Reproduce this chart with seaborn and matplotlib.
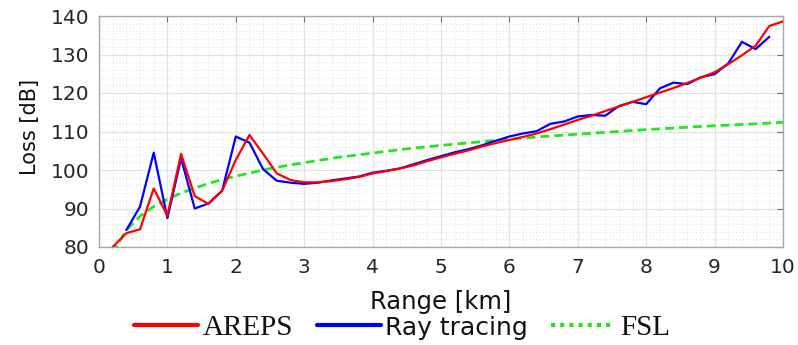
import numpy as np
import pandas as pd
import matplotlib
matplotlib.use("Agg")
import matplotlib.pyplot as plt
from matplotlib.lines import Line2D
from matplotlib.ticker import MultipleLocator
import seaborn as sns

# values
areps_range = [0.2, 0.4, 0.6, 0.8, 1.0, 1.2, 1.4, 1.6, 1.8, 2.0,
               2.2, 2.4, 2.6, 2.8, 3.0, 3.2, 3.4, 3.6, 3.8, 4.0,
               4.2, 4.4, 4.6, 4.8, 5.0, 5.2, 5.4, 5.6, 5.8, 6.0,
               6.2, 6.4, 6.6, 6.8, 7.0, 7.2, 7.4, 7.6, 7.8, 8.0,
               8.2, 8.4, 8.6, 8.8, 9.0, 9.2, 9.4, 9.6, 9.8, 10.0]
areps_loss = [80.0, 83.6, 84.6, 95.2, 88.1, 104.2, 93.2, 91.2, 94.6, 102.6,
              109.1, 104.2, 99.1, 97.4, 96.8, 96.8, 97.1, 97.6, 98.2, 99.1,
              99.7, 100.4, 101.2, 102.3, 103.3, 104.2, 105.1, 106.1, 107.0, 107.8,
              108.6, 109.5, 110.6, 111.8, 113.0, 114.1, 115.3, 116.5, 117.7, 118.9,
              120.1, 121.3, 122.6, 124.0, 125.4, 127.5, 129.8, 132.3, 137.4, 138.6]

ray_range = [0.4, 0.6, 0.8, 1.0, 1.2, 1.4, 1.6, 1.8, 2.0,
             2.2, 2.4, 2.6, 2.8, 3.0, 3.2, 3.4, 3.6, 3.8, 4.0,
             4.2, 4.4, 4.6, 4.8, 5.0, 5.2, 5.4, 5.6, 5.8, 6.0,
             6.2, 6.4, 6.6, 6.8, 7.0, 7.2, 7.4, 7.6, 7.8, 8.0,
             8.2, 8.4, 8.6, 8.8, 9.0, 9.2, 9.4, 9.6, 9.8]
ray_loss = [84.4, 90.5, 104.5, 87.5, 103.0, 90.0, 91.3, 94.6, 108.7,
            107.1, 100.2, 97.2, 96.7, 96.4, 96.7, 97.3, 97.8, 98.3, 99.3,
            99.8, 100.4, 101.5, 102.6, 103.6, 104.6, 105.4, 106.4, 107.6, 108.7,
            109.5, 110.1, 112.0, 112.6, 113.9, 114.3, 114.1, 116.6, 117.7, 117.1,
            121.2, 122.7, 122.3, 124.1, 124.9, 127.7, 133.3, 131.4, 134.6]

fsl_range = [0.2, 0.4, 0.6, 0.8, 1.0, 1.2, 1.4, 1.6, 1.8, 2.0,
             2.5, 3.0, 3.5, 4.0, 4.5, 5.0, 5.5, 6.0, 6.5, 7.0,
             7.5, 8.0, 8.5, 9.0, 9.5, 10.0]
fsl_loss = [78.4, 84.4, 88.0, 90.5, 92.4, 94.0, 95.3, 96.5, 97.5, 98.4,
            100.4, 101.9, 103.3, 104.4, 105.5, 106.4, 107.2, 108.0, 108.7, 109.3,
            109.9, 110.5, 111.0, 111.5, 111.9, 112.4]

x_ticks = list(range(0, 11))
y_ticks = [80, 90, 100, 110, 120, 130, 140]

sns.set_theme(style="white")
plt.rcParams['font.family'] = ['DejaVu Sans']

fig = plt.figure(figsize=(7.98, 3.45), dpi=100)
ax = fig.add_axes([99 / 798, 98 / 345, 684 / 798, 231 / 345])

areps_df = pd.DataFrame({"range": areps_range, "loss": areps_loss})
ray_df = pd.DataFrame({"range": ray_range, "loss": ray_loss})
fsl_df = pd.DataFrame({"range": fsl_range, "loss": fsl_loss})

sns.lineplot(data=fsl_df, x="range", y="loss", ax=ax, color="#22e622",
             linewidth=2.0, dashes=False, sort=False, estimator=None, zorder=3)
ax.lines[-1].set_dashes((3.2, 1.8))
sns.lineplot(data=ray_df, x="range", y="loss", ax=ax, color="#0000ff",
             linewidth=1.6, sort=False, estimator=None, zorder=4)
sns.lineplot(data=areps_df, x="range", y="loss", ax=ax, color="#ff0000",
             linewidth=1.6, sort=False, estimator=None, zorder=5)

ax.set_xlim(0, 10)
ax.set_ylim(80, 140)
ax.set_xticks(x_ticks)
ax.set_yticks(y_ticks)
ax.xaxis.set_minor_locator(MultipleLocator(0.2))
ax.yaxis.set_minor_locator(MultipleLocator(2))
ax.grid(which="major", color="#e3e3e3", linewidth=0.9, linestyle="-")
ax.grid(which="minor", color="#e3e3e3", linewidth=0.8, linestyle=(0, (1, 2)))
ax.set_axisbelow(True)

for s in ax.spines.values():
    s.set_color("#a8a8a8")
    s.set_linewidth(1.0)
ax.tick_params(which="major", direction="in", length=4, width=0.8, color="#707070",
               top=True, right=True, labelsize=14.5, labelcolor="#262626")
ax.tick_params(axis="x", pad=8)
ax.tick_params(axis="y", pad=7)
ax.tick_params(which="minor", length=0)

ax.set_xlabel("Range [km]", fontsize=17.5, color="#111111")
ax.set_ylabel("Loss [dB]", fontsize=15, color="#111111")
ax.xaxis.set_label_coords(0.5, -0.185)
ax.yaxis.set_label_coords(-0.086, 0.52)

handles = [
    Line2D([], [], color="#ff0000", linewidth=3),
    Line2D([], [], color="#0000ff", linewidth=3),
    Line2D([], [], color="#22e622", linewidth=3, linestyle=(0, (1, 1.2))),
]
leg = fig.legend(handles, ["AREPS", "Ray tracing", "FSL"], loc="center",
                 bbox_to_anchor=(402 / 798, 17 / 345), ncol=3, frameon=False,
                 prop={"family": "Liberation Serif", "size": 21},
                 handlelength=2.2, handletextpad=0.15, columnspacing=0.8,
                 borderpad=0, borderaxespad=0)
for t in leg.get_texts():
    t.set_color("#111111")
leg.get_texts()[1].set_fontfamily("DejaVu Sans")
leg.get_texts()[1].set_fontsize(18)

fig.savefig("out.png", dpi=100)
